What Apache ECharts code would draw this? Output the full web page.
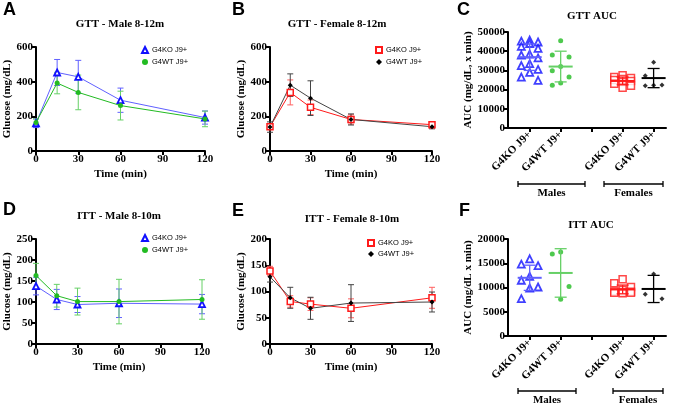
<!DOCTYPE html>
<html>
<head>
<meta charset="utf-8">
<script src="https://cdn.jsdelivr.net/npm/echarts@6/dist/echarts.min.js"></script>
<style>
  html, body { margin: 0; padding: 0; background: #fff; }
  #main { width: 676px; height: 406px; }
</style>
</head>
<body>
<div id="main"></div>
<script>
  // time points (min)
  const times = [0, 15, 30, 60, 120]

  // GTT males (mean / SD)
  const gttMaleKO = [160, 453, 428, 293, 193]
  const gttMaleKOSd = [25, 75, 95, 70, 38]
  const gttMaleWT = [165, 392, 338, 262, 185]
  const gttMaleWTSd = [20, 62, 100, 83, 45]
  // GTT females
  const gttFemKO = [140, 338, 252, 182, 152]
  const gttFemKOSd = [12, 72, 42, 27, 15]
  const gttFemWT = [138, 380, 305, 182, 140]
  const gttFemWTSd = [30, 65, 100, 32, 12]
  // ITT males
  const ittMaleKO = [138, 106, 94, 97, 95]
  const ittMaleKOSd = [21, 24, 19, 34, 23]
  const ittMaleWT = [163, 115, 101, 101, 106]
  const ittMaleWTSd = [29, 27, 32, 53, 47]
  // ITT females
  const ittFemKO = [139, 81, 76, 68, 88]
  const ittFemKOSd = [9, 11, 12, 18, 20]
  const ittFemWT = [128, 88, 68, 78, 80]
  const ittFemWTSd = [10, 20, 21, 35, 19]

  // AUC groups
  const aucGroups = ['G4KO J9+', 'G4WT J9+', '', 'G4KO J9+', 'G4WT J9+']
  const gttAucMaleKO = [45800, 45200, 44800, 44000, 42500, 41500, 38500, 38000, 36500, 33500, 32500, 30500, 29000, 26500, 24800]
  const gttAucMaleWT = [45500, 38000, 37000, 32000, 29800, 26500, 23500, 22300]
  const gttAucFemKO = [27500, 26500, 26000, 25500, 25000, 24500, 24000, 23000, 22000, 21000]
  const gttAucFemWT = [34200, 27200, 22400, 22300, 22000]
  const gttAucMean = [36900, 32000, 24500, 26000]
  const gttAucSd = [6900, 8000, 2000, 5000]

  const ittAucMaleKO = [15900, 14800, 14500, 12300, 11500, 10100, 9900, 7700]
  const ittAucMaleWT = [17300, 16900, 10200, 7600]
  const ittAucFemKO = [11700, 10900, 10100, 9500, 9200, 9100, 9000, 8900, 8900, 8800]
  const ittAucFemWT = [12800, 8600, 7700]
  const ittAucMean = [12000, 13000, 9600, 9700]
  const ittAucSd = [2600, 5000, 900, 2800]

  const BLUE = '#1010ff'
  const BLUE_L = '#6060ff'
  const GREEN = '#22bb22'
  const GREEN_L = '#66d066'
  const RED = '#ff1a1a'
  const RED_L = '#ff6060'
  const BLACK = '#000'
  const BLACK_L = '#444'

  const serif = 'Liberation Serif'
  const boldTxt = {fontFamily: serif, fontWeight: 'bold', fontSize: 11, color: '#000'}

  const grids = [
    {left: 36, top: 47, width: 169, height: 104},
    {left: 270, top: 47, width: 162, height: 104},
    {left: 508, top: 32, width: 158, height: 96},
    {left: 36, top: 239, width: 166, height: 105},
    {left: 270, top: 239, width: 162, height: 105},
    {left: 508, top: 239, width: 158, height: 97}
  ]

  const axisBase = {
    axisLine: {show: true, lineStyle: {color: '#000', width: 2}},
    axisTick: {show: true, length: 4, lineStyle: {color: '#000', width: 2}},
    axisLabel: Object.assign({margin: 3, formatter: v => String(v)}, boldTxt),
    splitLine: {show: false},
    nameTextStyle: boldTxt
  }

  function timeAxis (g) {
    return Object.assign({}, axisBase, {
      type: 'value', gridIndex: g, min: 0, max: 120, interval: 30,
      name: 'Time (min)', nameLocation: 'middle', nameGap: 18
    })
  }
  function gluAxis (g, max, step) {
    return Object.assign({}, axisBase, {
      type: 'value', gridIndex: g, min: 0, max: max, interval: step,
      name: 'Glucose (mg/dL)', nameLocation: 'middle', nameGap: 21
    })
  }
  const groupTicks = aucGroups.map((n, i) => i + 0.7)
  function groupAxis (g) {
    return Object.assign({}, axisBase, {
      type: 'value', gridIndex: g, min: 0, max: 5.1,
      axisTick: {show: true, length: 4, lineStyle: {color: '#000', width: 2}, customValues: groupTicks},
      axisLabel: Object.assign({margin: 5, rotate: 45, customValues: groupTicks.filter((v, i) => aucGroups[i]),
        formatter: v => aucGroups[Math.round(v - 0.7)]}, boldTxt)
    })
  }
  function aucAxis (g, max, step, name) {
    return Object.assign({}, axisBase, {
      type: 'value', gridIndex: g, min: 0, max: max, interval: step,
      name: name, nameLocation: 'middle', nameGap: 33
    })
  }

  // error bar (line panels)
  function errBars (g, mean, sd, color) {
    return {
      type: 'custom', xAxisIndex: g, yAxisIndex: g, silent: true, z: 1,
      data: times.map((t, i) => [t, mean[i], sd[i]]),
      renderItem: function (params, api) {
        const top = api.coord([api.value(0), api.value(1) + api.value(2)])
        const bot = api.coord([api.value(0), api.value(1) - api.value(2)])
        const st = {stroke: color, lineWidth: 1}
        return {type: 'group', children: [
          {type: 'line', shape: {x1: top[0], y1: top[1], x2: bot[0], y2: bot[1]}, style: st},
          {type: 'line', shape: {x1: top[0] - 3, y1: top[1], x2: top[0] + 3, y2: top[1]}, style: st},
          {type: 'line', shape: {x1: bot[0] - 3, y1: bot[1], x2: bot[0] + 3, y2: bot[1]}, style: st}
        ]}
      }
    }
  }

  const markers = {
    ko: {symbol: 'triangle', symbolSize: 6, itemStyle: {color: '#fff', borderColor: BLUE, borderWidth: 1.8}},
    wt: {symbol: 'circle', symbolSize: 5, itemStyle: {color: GREEN, borderColor: GREEN, borderWidth: 0}},
    kof: {symbol: 'rect', symbolSize: 6, itemStyle: {color: '#fff', borderColor: RED, borderWidth: 1.5}},
    wtf: {symbol: 'diamond', symbolSize: 5, itemStyle: {color: BLACK, borderColor: BLACK, borderWidth: 0}}
  }

  function lineSeries (g, name, mean, mk, lineColor) {
    return Object.assign({
      type: 'line', name: name, xAxisIndex: g, yAxisIndex: g, z: 3,
      data: times.map((t, i) => [t, mean[i]]),
      lineStyle: {color: lineColor, width: 1}
    }, markers[mk])
  }

  // dot plot jitter: cycle centre / left / right
  const jit = [0, -0.27, 0.27]
  function dots (g, name, pos, values, mk, size) {
    const m = Object.assign({}, markers[mk], {symbolSize: size})
    return Object.assign({
      type: 'scatter', name: name, xAxisIndex: g, yAxisIndex: g, z: 3,
      data: values.map((v, i) => [pos + 0.7 + jit[i % 3], v])
    }, m)
  }
  function meanSd (g, mean, sd, colors) {
    const pos = [0, 1, 3, 4]
    return {
      type: 'custom', xAxisIndex: g, yAxisIndex: g, silent: true, z: 4,
      data: mean.map((m, i) => [pos[i] + 0.7, m, sd[i], i]),
      renderItem: function (params, api) {
        const col = colors[api.value(3)]
        const c = api.coord([api.value(0), api.value(1)])
        const top = api.coord([api.value(0), api.value(1) + api.value(2)])
        const bot = api.coord([api.value(0), api.value(1) - api.value(2)])
        return {type: 'group', children: [
          {type: 'line', shape: {x1: c[0] - 12, y1: c[1], x2: c[0] + 12, y2: c[1]}, style: {stroke: col, lineWidth: 2}},
          {type: 'line', shape: {x1: top[0], y1: top[1], x2: bot[0], y2: bot[1]}, style: {stroke: col, lineWidth: 1.3}},
          {type: 'line', shape: {x1: top[0] - 6, y1: top[1], x2: top[0] + 6, y2: top[1]}, style: {stroke: col, lineWidth: 1.3}},
          {type: 'line', shape: {x1: bot[0] - 6, y1: bot[1], x2: bot[0] + 6, y2: bot[1]}, style: {stroke: col, lineWidth: 1.3}}
        ]}
      }
    }
  }

  function legendAt (left, top, names, gap) {
    return {
      left: left, top: top, orient: 'vertical', itemWidth: 6, itemHeight: 6, itemGap: gap, padding: 0,
      data: names.map(n => ({name: n, icon: n.indexOf('KO') >= 0 ? (n.indexOf('A') > 0 || n.indexOf('D') > 0 ? 'triangle' : 'rect') : (n.indexOf('B') > 0 || n.indexOf('E') > 0 ? 'diamond' : 'circle')})),
      formatter: n => n.split('|')[0],
      textStyle: {fontFamily: 'Liberation Sans', fontSize: 7.5, color: '#000', padding: [0, 0, 0, -1]}
    }
  }

  function panelTitle (text, x, y) {
    return {text: text, left: x, top: y, textAlign: 'center', padding: 0,
      textStyle: {fontFamily: serif, fontWeight: 'bold', fontSize: 11, color: '#000'}}
  }
  function letter (text, x, y) {
    return {text: text, left: x, top: y, padding: 0,
      textStyle: {fontFamily: 'Liberation Sans', fontWeight: 'bold', fontSize: 18, color: '#000'}}
  }
  function bracket (x1, x2, y, label) {
    const st = {stroke: '#000', lineWidth: 1.3}
    return [
      {type: 'line', shape: {x1: x1, y1: y, x2: x2, y2: y}, style: st},
      {type: 'line', shape: {x1: x1, y1: y - 3, x2: x1, y2: y + 3}, style: st},
      {type: 'line', shape: {x1: x2, y1: y - 3, x2: x2, y2: y + 3}, style: st},
      {type: 'text', x: (x1 + x2) / 2, y: y + 9, style: {text: label, textAlign: 'center', textVerticalAlign: 'middle',
        font: 'bold 11px "Liberation Serif"', fill: '#000'}}
    ]
  }

  const chart = echarts.init(document.getElementById('main'))
  const option = {
    animation: false,
    backgroundColor: '#fff',
    title: [
      letter('A', 3, 1), letter('B', 232, 1), letter('C', 457, 1),
      letter('D', 3, 201), letter('E', 232, 202), letter('F', 459, 202),
      panelTitle('GTT - Male 8-12m', 120, 19),
      panelTitle('GTT - Female 8-12m', 337, 19),
      panelTitle('GTT AUC', 592, 11),
      panelTitle('ITT - Male 8-10m', 119, 211),
      panelTitle('ITT - Female 8-10m', 352, 214),
      panelTitle('ITT AUC', 591, 220)
    ],
    legend: [
      legendAt(141, 46, ['G4KO J9+|A', 'G4WT J9+|A'], 4),
      legendAt(375, 46, ['G4KO J9+|B', 'G4WT J9+|B'], 4),
      legendAt(141, 234, ['G4KO J9+|D', 'G4WT J9+|D'], 4),
      legendAt(367, 239, ['G4KO J9+|E', 'G4WT J9+|E'], 3)
    ],
    grid: grids,
    xAxis: [timeAxis(0), timeAxis(1), groupAxis(2), timeAxis(3), timeAxis(4), groupAxis(5)],
    yAxis: [
      gluAxis(0, 600, 200), gluAxis(1, 600, 200), aucAxis(2, 50000, 10000, 'AUC (mg/dL, x min)'),
      gluAxis(3, 250, 50), gluAxis(4, 200, 50), aucAxis(5, 20000, 5000, 'AUC (mg/dL x min)')
    ],
    graphic: [].concat(
      bracket(518, 585, 184, 'Males'), bracket(604, 663, 184, 'Females'),
      bracket(518, 576, 391, 'Males'), bracket(613, 663, 391, 'Females')
    ),
    series: [
      errBars(0, gttMaleKO, gttMaleKOSd, BLUE_L), errBars(0, gttMaleWT, gttMaleWTSd, GREEN_L),
      lineSeries(0, 'G4KO J9+|A', gttMaleKO, 'ko', BLUE_L), lineSeries(0, 'G4WT J9+|A', gttMaleWT, 'wt', GREEN),
      errBars(1, gttFemKO, gttFemKOSd, RED_L), errBars(1, gttFemWT, gttFemWTSd, BLACK_L),
      lineSeries(1, 'G4KO J9+|B', gttFemKO, 'kof', RED), lineSeries(1, 'G4WT J9+|B', gttFemWT, 'wtf', BLACK_L),
      errBars(3, ittMaleKO, ittMaleKOSd, BLUE_L), errBars(3, ittMaleWT, ittMaleWTSd, GREEN_L),
      lineSeries(3, 'G4KO J9+|D', ittMaleKO, 'ko', BLUE_L), lineSeries(3, 'G4WT J9+|D', ittMaleWT, 'wt', GREEN),
      errBars(4, ittFemKO, ittFemKOSd, RED_L), errBars(4, ittFemWT, ittFemWTSd, BLACK_L),
      lineSeries(4, 'G4KO J9+|E', ittFemKO, 'kof', RED), lineSeries(4, 'G4WT J9+|E', ittFemWT, 'wtf', BLACK_L),
      // AUC dot plots
      dots(2, 'gKOm', 0, gttAucMaleKO, 'ko', 7), dots(2, 'gWTm', 1, gttAucMaleWT, 'wt', 5),
      dots(2, 'gKOf', 3, gttAucFemKO, 'kof', 7), dots(2, 'gWTf', 4, gttAucFemWT, 'wtf', 5),
      meanSd(2, gttAucMean, gttAucSd, [BLUE_L, GREEN_L, RED, BLACK]),
      dots(5, 'iKOm', 0, ittAucMaleKO, 'ko', 7), dots(5, 'iWTm', 1, ittAucMaleWT, 'wt', 5),
      dots(5, 'iKOf', 3, ittAucFemKO, 'kof', 7), dots(5, 'iWTf', 4, ittAucFemWT, 'wtf', 5),
      meanSd(5, ittAucMean, ittAucSd, [BLUE_L, GREEN_L, RED, BLACK])
    ]
  }
  chart.setOption(option)
</script>
</body>
</html>
